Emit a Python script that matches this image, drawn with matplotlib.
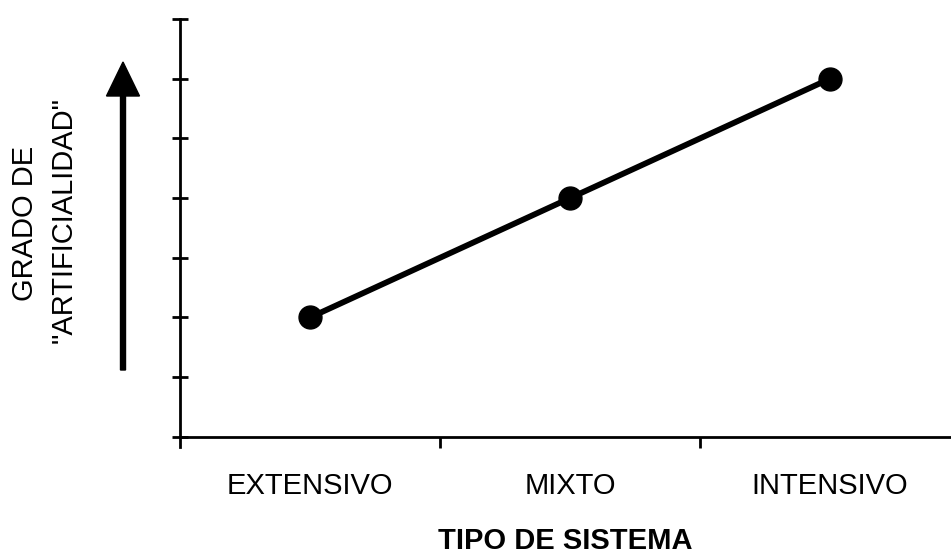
import matplotlib.pyplot as plt
from matplotlib.patches import FancyArrow

categories = ["EXTENSIVO", "MIXTO", "INTENSIVO"]
values = [2, 4, 6]
y_ticks = [0, 1, 2, 3, 4, 5, 6, 7]

plt.rcParams["font.family"] = ["Liberation Sans", "DejaVu Sans"]

fig = plt.figure(figsize=(9.51, 5.55), dpi=100)
ax = fig.add_axes([180 / 951, 108 / 555, 771 / 951, 428 / 555])

x = list(range(len(categories)))
ax.plot(x, values, color="black", linewidth=4.2, marker="o", markersize=16.5,
        solid_capstyle="round", zorder=3, clip_on=False)

ax.set_xlim(-0.5, 2.465)
ax.set_ylim(-0.17, 7)

for side in ["top", "right"]:
    ax.spines[side].set_visible(False)
ax.spines["bottom"].set_position(("data", 0))
ax.spines["left"].set_linewidth(2)
ax.spines["bottom"].set_linewidth(2)

ax.set_yticks(y_ticks)
ax.set_yticklabels([])
ax.tick_params(axis="y", direction="inout", length=11, width=2)

ax.set_xticks(x)
ax.set_xticklabels(categories, fontsize=21)
ax.tick_params(axis="x", which="major", length=0, pad=25)
ax.set_xticks([0.5, 1.5], minor=True)
ax.tick_params(axis="x", which="minor", direction="out", length=8, width=2)

fig.text(565 / 951, 1 - 541 / 555, "TIPO DE SISTEMA", ha="center", va="center",
         fontsize=21, fontweight="bold")

fig.text(25 / 951, 1 - 223 / 555, "GRADO DE", rotation=90, ha="center", va="center",
         fontsize=21)
fig.text(64 / 951, 1 - 220 / 555, '"ARTIFICIALIDAD"', rotation=90, ha="center", va="center",
         fontsize=21)

arrow = FancyArrow(123, 555 - 370, 0, 308, width=5, head_width=33, head_length=34,
                   length_includes_head=True, color="black", transform=None)
fig.patches.append(arrow)

fig.savefig("out.png", dpi=100)
plt.close(fig)
